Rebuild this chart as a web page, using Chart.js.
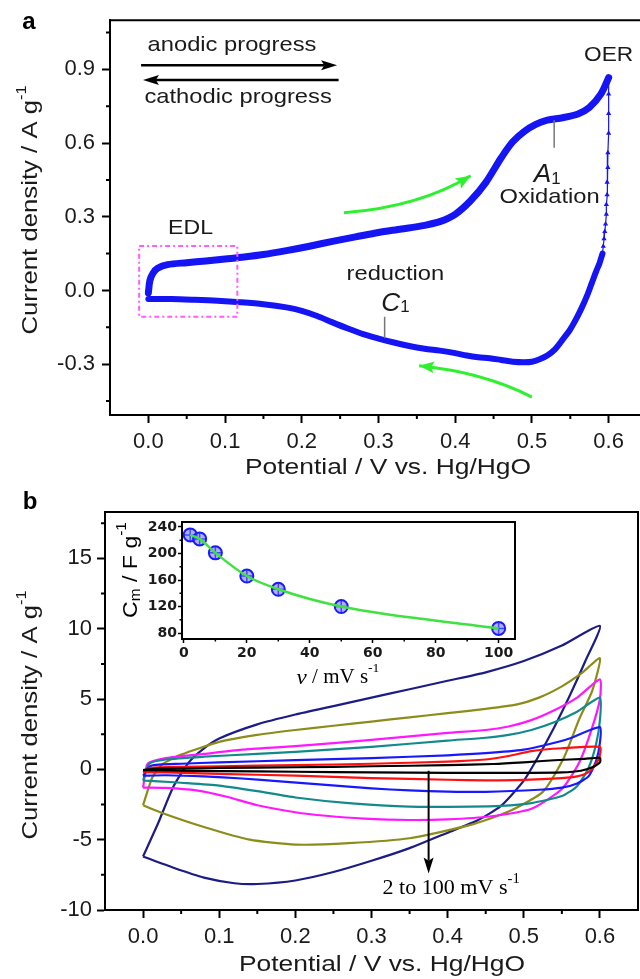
<!DOCTYPE html>
<html>
<head>
<meta charset="utf-8">
<script src="https://cdn.jsdelivr.net/npm/chart.js@4.4.1/dist/chart.umd.min.js"></script>
<style>
  html, body { margin: 0; padding: 0; background: #fff; overflow: hidden; width: 640px; height: 979px; position: relative; }
  canvas { position: absolute; }
</style>
</head>
<body>
<canvas id="ca" width="660" height="480" style="left:0;top:0"></canvas>
<canvas id="cb" width="640" height="499" style="left:0;top:480px"></canvas>
<canvas id="ci" width="430" height="190" style="left:100px;top:505px"></canvas>
<script>
  // ---- panel a : single CV, potential (V) / current density (A/g)
  const aTicksX = [0, 0.1, 0.2, 0.3, 0.4, 0.5, 0.6];
  const aMinorX = [0.05, 0.15, 0.25, 0.35, 0.45, 0.55];
  const aTicksY = [-0.3, 0, 0.3, 0.6, 0.9];
  const aMinorY = [-0.45, -0.15, 0.15, 0.45, 0.75, 1.05];

  const anodicV = [0, 0.002, 0.006, 0.012, 0.025, 0.05, 0.075, 0.1, 0.125, 0.15, 0.18, 0.21, 0.24, 0.27, 0.3, 0.33, 0.36, 0.38, 0.4, 0.42, 0.44, 0.46, 0.475, 0.49, 0.505, 0.52, 0.54, 0.56, 0.575, 0.59, 0.6];
  const anodicJ = [-0.01, 0.04, 0.07, 0.09, 0.105, 0.113, 0.12, 0.128, 0.136, 0.146, 0.162, 0.18, 0.2, 0.218, 0.236, 0.25, 0.265, 0.28, 0.31, 0.365, 0.44, 0.54, 0.605, 0.647, 0.676, 0.693, 0.703, 0.718, 0.745, 0.8, 0.866];
  const oerV = [0.6, 0.6, 0.6, 0.6, 0.599, 0.599, 0.598, 0.598, 0.597, 0.597, 0.596, 0.595, 0.594, 0.593, 0.592];
  const oerJ = [0.866, 0.8, 0.72, 0.64, 0.56, 0.5, 0.44, 0.39, 0.35, 0.31, 0.27, 0.24, 0.21, 0.18, 0.15];
  const cathV = [0.592, 0.588, 0.584, 0.578, 0.572, 0.565, 0.557, 0.549, 0.54, 0.53, 0.52, 0.51, 0.5, 0.49, 0.475, 0.46, 0.445, 0.43, 0.415, 0.4, 0.38, 0.36, 0.34, 0.32, 0.3, 0.28, 0.26, 0.24, 0.22, 0.2, 0.18, 0.15, 0.12, 0.09, 0.06, 0.03, 0];
  const cathJ = [0.15, 0.11, 0.08, 0.03, -0.02, -0.07, -0.12, -0.163, -0.2, -0.24, -0.265, -0.28, -0.29, -0.292, -0.29, -0.283, -0.276, -0.272, -0.265, -0.255, -0.245, -0.237, -0.226, -0.212, -0.196, -0.178, -0.155, -0.13, -0.104, -0.083, -0.069, -0.056, -0.048, -0.042, -0.038, -0.035, -0.035];

  // ---- panel b : CVs at 2..100 mV/s
  const bTicksX = [0, 0.1, 0.2, 0.3, 0.4, 0.5, 0.6];
  const bMinorX = [0.05, 0.15, 0.25, 0.35, 0.45, 0.55];
  const bTicksY = [-10, -5, 0, 5, 10, 15];
  const bMinorY = [-7.5, -2.5, 2.5, 7.5, 12.5, 17.5];

  const cv2V = [0, 0.02, 0.1, 0.2, 0.3, 0.4, 0.46, 0.5, 0.54, 0.58, 0.6, 0.6, 0.59, 0.575, 0.55, 0.5, 0.4, 0.3, 0.2, 0.1, 0.02, 0];
  const cv2J = [-0.05, 0.05, 0.1, 0.15, 0.22, 0.3, 0.38, 0.5, 0.65, 0.75, 0.82, 0.5, 0.15, -0.1, -0.22, -0.25, -0.25, -0.22, -0.17, -0.12, -0.08, -0.05];
  const cv5V = [0, 0.01, 0.05, 0.1, 0.2, 0.3, 0.4, 0.45, 0.48, 0.51, 0.55, 0.6, 0.6, 0.595, 0.585, 0.57, 0.55, 0.5, 0.45, 0.4, 0.3, 0.2, 0.1, 0.03, 0];
  const cv5J = [-0.2, 0.1, 0.18, 0.22, 0.3, 0.4, 0.55, 0.7, 0.95, 1.3, 1.5, 1.6, 1.0, 0.4, -0.2, -0.5, -0.62, -0.75, -0.78, -0.74, -0.62, -0.45, -0.32, -0.22, -0.2];
  const cv10V = [0, 0.01, 0.05, 0.1, 0.2, 0.3, 0.4, 0.45, 0.5, 0.53, 0.56, 0.6, 0.6, 0.595, 0.585, 0.57, 0.55, 0.52, 0.45, 0.4, 0.35, 0.3, 0.24, 0.18, 0.13, 0.08, 0.03, 0];
  const cv10J = [-0.45, 0.25, 0.4, 0.5, 0.65, 0.8, 1.0, 1.15, 1.4, 1.75, 2.2, 3.0, 1.9, 0.6, -0.5, -1.0, -1.3, -1.45, -1.6, -1.58, -1.5, -1.35, -1.1, -0.85, -0.65, -0.5, -0.42, -0.45];
  const cv20V = [0, 0.008, 0.03, 0.08, 0.15, 0.2, 0.3, 0.4, 0.45, 0.48, 0.51, 0.54, 0.57, 0.6, 0.6, 0.595, 0.585, 0.57, 0.55, 0.51, 0.47, 0.43, 0.35, 0.27, 0.2, 0.15, 0.1, 0.05, 0.02, 0];
  const cv20J = [-0.8, 0.4, 0.7, 0.9, 1.1, 1.25, 1.6, 2.05, 2.25, 2.45, 2.8, 3.35, 4.1, 5.1, 3.5, 1.8, 0.1, -1.2, -1.9, -2.4, -2.6, -2.65, -2.65, -2.4, -2.0, -1.55, -1.15, -0.95, -0.85, -0.8];
  const cv30V = [0, 0.006, 0.03, 0.08, 0.13, 0.2, 0.3, 0.35, 0.4, 0.45, 0.48, 0.51, 0.54, 0.57, 0.6, 0.6, 0.59, 0.573, 0.55, 0.51, 0.455, 0.4, 0.35, 0.29, 0.24, 0.2, 0.15, 0.11, 0.07, 0.03, 0];
  const cv30J = [-1.3, 0.4, 0.8, 1.1, 1.4, 1.65, 2.1, 2.35, 2.6, 2.8, 3.05, 3.5, 4.2, 5.1, 6.4, 5.0, 3.0, 0.5, -1.4, -2.8, -3.35, -3.55, -3.6, -3.5, -3.3, -3.05, -2.55, -1.95, -1.5, -1.32, -1.3];
  const cv50V = [0, 0.012, 0.025, 0.05, 0.1, 0.15, 0.2, 0.25, 0.3, 0.35, 0.4, 0.45, 0.49, 0.52, 0.55, 0.575, 0.6, 0.59, 0.573, 0.552, 0.525, 0.48, 0.43, 0.35, 0.27, 0.2, 0.14, 0.08, 0.025, 0];
  const cv50J = [-2.55, -0.6, 0.35, 1.05, 1.95, 2.45, 2.8, 3.1, 3.4, 3.7, 4.0, 4.3, 4.6, 5.1, 5.9, 6.8, 7.9, 5.6, 3.6, 0.75, -1.6, -3.0, -3.95, -4.9, -5.25, -5.35, -5.0, -4.1, -3.1, -2.55];
  const cv100V = [0, 0.02, 0.04, 0.06, 0.08, 0.1, 0.15, 0.2, 0.25, 0.3, 0.35, 0.4, 0.45, 0.5, 0.55, 0.6, 0.58, 0.56, 0.54, 0.52, 0.5, 0.47, 0.44, 0.4, 0.35, 0.3, 0.25, 0.2, 0.15, 0.12, 0.08, 0.04, 0];
  const cv100J = [-6.2, -3.8, -1.2, 0.5, 1.5, 2.2, 3.2, 3.9, 4.5, 5.1, 5.7, 6.3, 6.9, 7.7, 8.8, 10.2, 7.6, 5.2, 3.0, 1.0, -0.8, -2.6, -3.6, -4.5, -5.6, -6.5, -7.3, -7.9, -8.15, -8.1, -7.7, -7.0, -6.2];

  const cvSets = [
    { rate: 2, V: cv2V, J: cv2J, color: '#000000' },
    { rate: 5, V: cv5V, J: cv5J, color: '#ff1010' },
    { rate: 10, V: cv10V, J: cv10J, color: '#1818ff' },
    { rate: 20, V: cv20V, J: cv20J, color: '#138a8a' },
    { rate: 30, V: cv30V, J: cv30J, color: '#ff18ff' },
    { rate: 50, V: cv50V, J: cv50J, color: '#8c8c1a' },
    { rate: 100, V: cv100V, J: cv100J, color: '#1c1c86' }
  ];

  // ---- inset : specific capacitance vs scan rate
  const rateV = [2, 5, 10, 20, 30, 50, 100];
  const capCm = [228, 222, 201, 166, 146, 120, 87];
  const inTicksX = [0, 20, 40, 60, 80, 100];
  const inMinorX = [10, 30, 50, 70, 90];
  const inTicksY = [80, 120, 160, 200, 240];
  const inMinorY = [100, 140, 180, 220];

  const FONT = "'Liberation Sans', Arial, sans-serif";
  const SERIF = "'Liberation Serif', 'Times New Roman', serif";
  const TXT = '#1a1a1a';
  const BLUE = '#1414f4';

  const pts = (V, J) => V.map((v, i) => ({ x: v, y: J[i] }));

  function axis(min, max, ticks, fmt, size, o = {}) {
    return {
      type: 'linear', min, max,
      afterBuildTicks: (s) => { s.ticks = ticks.map((v) => ({ value: v })); },
      afterFit: (s) => { if (s.isHorizontal()) s.height = size; else s.width = size; },
      grid: { display: true, drawOnChartArea: false, drawTicks: true, tickLength: o.tick || 8, tickWidth: o.tw || 2, tickColor: '#000' },
      border: { display: true, width: o.bw || 2, color: '#000' },
      ticks: {
        callback: fmt, color: TXT, autoSkip: false, maxRotation: 0, padding: o.pad ?? 6,
        font: { family: o.family || FONT, size: o.fs || 22, weight: o.weight || 'normal' }
      }
    };
  }

  // text with optional sub/superscripts, horizontal stretch and rotation
  function label(ctx, parts, x, y, opt = {}) {
    ctx.save();
    ctx.translate(x, y);
    if (opt.rot) ctx.rotate(-Math.PI / 2);
    ctx.scale(opt.sx || 1, 1);
    ctx.textBaseline = 'middle';
    ctx.textAlign = 'left';
    let w = 0;
    const ws = parts.map((p) => { ctx.font = p[1]; const m = ctx.measureText(p[0]).width; w += m; return m; });
    let cx = opt.align === 'left' ? 0 : -w / 2;
    ctx.fillStyle = opt.color || TXT;
    parts.forEach((p, i) => { ctx.font = p[1]; ctx.fillText(p[0], cx, p[2] || 0); cx += ws[i]; });
    ctx.restore();
  }

  function frame(ctx, ca, all, lw) {
    ctx.save();
    ctx.strokeStyle = '#000';
    ctx.lineWidth = lw;
    ctx.beginPath();
    if (all) { ctx.rect(ca.left, ca.top, ca.right - ca.left, ca.bottom - ca.top); }
    else { ctx.moveTo(ca.left, ca.top); ctx.lineTo(ca.right, ca.top); ctx.lineTo(ca.right, ca.bottom); }
    ctx.stroke();
    ctx.restore();
  }

  function minor(ctx, chart, mx, my, len, lw) {
    const { chartArea: ca, scales: { x, y } } = chart;
    ctx.save();
    ctx.strokeStyle = '#000';
    ctx.lineWidth = lw;
    ctx.beginPath();
    mx.forEach((v) => { const X = x.getPixelForValue(v); ctx.moveTo(X, ca.bottom); ctx.lineTo(X, ca.bottom + len); });
    my.forEach((v) => { const Y = y.getPixelForValue(v); ctx.moveTo(ca.left, Y); ctx.lineTo(ca.left - len, Y); });
    ctx.stroke();
    ctx.restore();
  }

  function head(ctx, x, y, ang, len, half, color) {
    ctx.save();
    ctx.fillStyle = color;
    ctx.translate(x, y);
    ctx.rotate(ang);
    ctx.beginPath();
    ctx.moveTo(0, 0);
    ctx.lineTo(-len, -half);
    ctx.lineTo(-len * 0.8, 0);
    ctx.lineTo(-len, half);
    ctx.closePath();
    ctx.fill();
    ctx.restore();
  }

  function straightArrow(ctx, x0, y0, x1, y1, color, lw, len, half) {
    const ang = Math.atan2(y1 - y0, x1 - x0);
    ctx.save();
    ctx.strokeStyle = color;
    ctx.lineWidth = lw;
    ctx.beginPath();
    ctx.moveTo(x0, y0);
    ctx.lineTo(x1 - Math.cos(ang) * len * 0.8, y1 - Math.sin(ang) * len * 0.8);
    ctx.stroke();
    ctx.restore();
    head(ctx, x1, y1, ang, len, half, color);
  }

  function curvedArrow(ctx, p0, c, p1, color) {
    ctx.save();
    ctx.strokeStyle = color;
    ctx.lineWidth = 3;
    ctx.beginPath();
    ctx.moveTo(p0[0], p0[1]);
    ctx.quadraticCurveTo(c[0], c[1], p1[0], p1[1]);
    ctx.stroke();
    ctx.restore();
    head(ctx, p1[0], p1[1], Math.atan2(p1[1] - c[1], p1[0] - c[0]), 15, 6, color);
  }

  const F21 = '21px ' + FONT;
  const F22 = '22px ' + FONT;
  const SUP = '14px ' + FONT;

  // ---------- panel a ----------
  const panelA = {
    id: 'panelA',
    afterDraw(chart) {
      const { ctx, chartArea: ca, scales: { x, y } } = chart;
      const P = (v, j) => [x.getPixelForValue(v), y.getPixelForValue(j)];
      frame(ctx, ca, false, 2);
      minor(ctx, chart, aMinorX, aMinorY, 4, 2);

      // EDL box
      const b0 = P(-0.012, 0.181), b1 = P(0.116, -0.107);
      ctx.save();
      ctx.strokeStyle = '#ff5cff';
      ctx.lineWidth = 2;
      ctx.setLineDash([5, 3, 2, 3]);
      ctx.strokeRect(b0[0], b0[1], b1[0] - b0[0], b1[1] - b0[1]);
      ctx.restore();

      // direction arrows
      let a = P(-0.0095, 0.917), c = P(0.246, 0.917);
      straightArrow(ctx, a[0], a[1], c[0], c[1], '#000', 2.5, 16, 5);
      a = P(0.248, 0.857); c = P(-0.007, 0.857);
      straightArrow(ctx, a[0], a[1], c[0], c[1], '#000', 2.5, 16, 5);

      curvedArrow(ctx, P(0.255, 0.316), P(0.354, 0.341), P(0.42, 0.467), '#2ef02e');
      curvedArrow(ctx, P(0.5, -0.434), P(0.436, -0.333), P(0.353, -0.307), '#2ef02e');

      // leader lines
      ctx.save();
      ctx.strokeStyle = '#777';
      ctx.lineWidth = 1.5;
      ctx.beginPath();
      let l0 = P(0.529, 0.693), l1 = P(0.529, 0.581);
      ctx.moveTo(l0[0], l0[1]); ctx.lineTo(l1[0], l1[1]);
      l0 = P(0.308, -0.107); l1 = P(0.308, -0.195);
      ctx.moveTo(l0[0], l0[1]); ctx.lineTo(l1[0], l1[1]);
      ctx.stroke();
      ctx.restore();

      const T = (parts, v, j, opt) => { const p = P(v, j); label(ctx, parts, p[0], p[1], opt); };
      T([['anodic progress', F21]], 0.109, 1.0, { sx: 1.13 });
      T([['cathodic progress', F21]], 0.117, 0.785, { sx: 1.13 });
      T([['OER', F21]], 0.6, 0.957, { sx: 1.08 });
      T([['A', 'italic 25px ' + FONT], ['1', '16px ' + FONT, 4]], 0.52, 0.469, { sx: 1.05 });
      T([['Oxidation', F21]], 0.523, 0.381, { sx: 1.13 });
      T([['EDL', F21]], 0.055, 0.253, { sx: 1.1 });
      T([['reduction', F21]], 0.322, 0.065, { sx: 1.13 });
      T([['C', 'italic 25px ' + FONT], ['1', '16px ' + FONT, 4]], 0.322, -0.055, { sx: 1.05 });

      // axis titles, panel letter
      label(ctx, [['Current density / A g', F22], ['-1', SUP, -9]], 31, 210, { rot: true, sx: 1.17 });
      label(ctx, [['Potential / V vs. Hg/HgO', F22]], 388, 468, { sx: 1.2 });
      label(ctx, [['a', 'bold 24px ' + FONT]], 29, 22, { color: '#000' });
    }
  };

  new Chart(document.getElementById('ca'), {
    type: 'scatter',
    data: {
      datasets: [
        { data: pts(anodicV, anodicJ), showLine: true, borderColor: BLUE, borderWidth: 7, pointRadius: 0, tension: 0.3, borderCapStyle: 'round', borderJoinStyle: 'round' },
        { data: pts(oerV, oerJ), showLine: true, borderColor: BLUE, borderWidth: 1.2, pointRadius: 3, pointStyle: 'triangle', pointBackgroundColor: BLUE, pointBorderWidth: 0 },
        { data: pts(cathV, cathJ), showLine: true, borderColor: BLUE, borderWidth: 6, pointRadius: 0, tension: 0.3, borderCapStyle: 'round', borderJoinStyle: 'round' }
      ]
    },
    options: {
      responsive: false, animation: false, events: [],
      layout: { padding: { top: 13, right: 13, left: 0, bottom: 0 } },
      plugins: { legend: { display: false }, tooltip: { enabled: false } },
      scales: {
        x: axis(-0.05, 0.65, aTicksX, (v) => v.toFixed(1), 65),
        y: axis(-0.507, 1.1, aTicksY, (v) => v.toFixed(1), 110, { pad: 7 })
      }
    },
    plugins: [panelA]
  });

  // ---------- panel b ----------
  const panelB = {
    id: 'panelB',
    afterDraw(chart) {
      const { ctx, chartArea: ca, scales: { x, y } } = chart;
      const P = (v, j) => [x.getPixelForValue(v), y.getPixelForValue(j)];
      frame(ctx, ca, false, 2);
      minor(ctx, chart, bMinorX, bMinorY, 4, 2);

      const a = P(0.375, -0.1), c = P(0.375, -7.4);
      straightArrow(ctx, a[0], a[1], c[0], c[1], '#000', 2, 16, 5);
      const t = P(0.3145, -8.44);
      label(ctx, [['2 to 100 mV s', '21px ' + SERIF], ['-1', '14px ' + SERIF, -9]], t[0], t[1], { align: 'left', sx: 1.05, color: '#000' });

      label(ctx, [['Current density / A g', F22], ['-1', SUP, -9]], 31, 235, { rot: true, sx: 1.17 });
      label(ctx, [['Potential / V vs. Hg/HgO', F22]], 382, 485, { sx: 1.2 });
      label(ctx, [['b', 'bold 24px ' + FONT]], 30, 22, { color: '#000' });
    }
  };

  new Chart(document.getElementById('cb'), {
    type: 'scatter',
    data: {
      datasets: cvSets.map((s) => ({
        label: s.rate + ' mV/s', data: pts(s.V, s.J), showLine: true,
        borderColor: s.color, borderWidth: 2.2, pointRadius: 0, tension: 0.2
      }))
    },
    options: {
      responsive: false, animation: false, events: [],
      layout: { padding: { top: 32, right: 2, left: 0, bottom: 0 } },
      plugins: { legend: { display: false }, tooltip: { enabled: false } },
      scales: {
        x: axis(-0.05, 0.65, bTicksX, (v) => v.toFixed(1), 69),
        y: axis(-10, 18.3, bTicksY, (v) => String(v), 105, { pad: 5 })
      }
    },
    plugins: [panelB]
  });

  // ---------- inset ----------
  const inset = {
    id: 'inset',
    afterDraw(chart) {
      const { ctx, chartArea: ca } = chart;
      frame(ctx, ca, true, 2);
      minor(ctx, chart, inMinorX, inMinorY, 2.5, 1.5);
      label(ctx, [['C', '21px ' + FONT], ['m', SUP, 5], [' / F g', '21px ' + FONT], ['-1', SUP, -9]], 31, 65, { rot: true, sx: 1.1, color: '#000' });
      label(ctx, [['\u03bd', 'italic 22px ' + SERIF], [' / mV s', '20px ' + SERIF], ['-1', '13px ' + SERIF, -9]], 238, 173, { sx: 1.05, color: '#000' });
    }
  };

  new Chart(document.getElementById('ci'), {
    type: 'scatter',
    data: {
      datasets: [
        { data: pts(rateV, capCm), showLine: true, borderColor: '#3fe23f', borderWidth: 2.5, pointRadius: 0, cubicInterpolationMode: 'monotone' },
        { data: pts(rateV, capCm), showLine: false, pointRadius: 6.5, pointStyle: 'circle', pointBackgroundColor: 'rgba(110,110,255,0.55)', pointBorderColor: '#1a1aff', pointBorderWidth: 2 },
        { data: pts(rateV, capCm), showLine: false, pointRadius: 6.5, pointStyle: 'cross', pointBorderColor: '#1a1aff', pointBorderWidth: 1.5 }
      ]
    },
    options: {
      responsive: false, animation: false, events: [],
      layout: { padding: { top: 17, right: 15, left: 0, bottom: 0 } },
      plugins: { legend: { display: false }, tooltip: { enabled: false } },
      scales: {
        x: axis(-0.6, 105.2, inTicksX, (v) => String(v), 56, { tick: 4, tw: 1.5, bw: 2, fs: 14, weight: 'bold', family: "'DejaVu Sans', sans-serif", pad: 2 }),
        y: axis(71, 247.5, inTicksY, (v) => String(v), 82, { tick: 4, tw: 1.5, bw: 2, fs: 14, weight: 'bold', family: "'DejaVu Sans', sans-serif", pad: 1 })
      }
    },
    plugins: [inset]
  });
</script>
</body>
</html>
